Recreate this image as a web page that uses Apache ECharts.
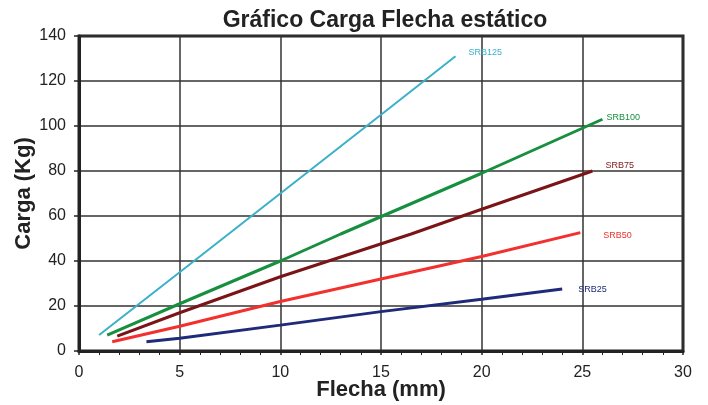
<!DOCTYPE html>
<html><head><meta charset="utf-8">
<script src="https://cdn.jsdelivr.net/npm/echarts@6/dist/echarts.min.js"></script>
<style>html,body{margin:0;padding:0;background:#fff}#c{width:708px;height:405px}</style>
</head><body><div id="c"></div>
<script>
var seriesNames = ['SRB125','SRB100','SRB75','SRB50','SRB25'];
var srb125 = [[1.0,7.1],[5,35],[10,70],[15,105],[18.7,131]];
var srb100 = [[1.4,7.1],[5,21],[10,40],[13,52],[20,79],[26.0,103]];
var srb75  = [[1.9,6.6],[5,17],[10,33],[16.5,52],[20,63],[25.5,80]];
var srb50  = [[1.65,4.1],[5,11],[10,22],[15,32],[20,42],[24.9,52.6]];
var srb25  = [[3.35,4.1],[5,5.7],[10,11.5],[15,17.5],[20,23],[24,27.6]];
var colors = ['#3BB0C9','#16903F','#7B1416','#F2312E','#1F2A78'];
var widths = [2,3,3,3,3];
var labelOffsets = [[5,-4],[-4,-2],[5,-5],[15,3],[8,1]];
var xTicks = [0,5,10,15,20,25,30];
var yTicks = [0,20,40,60,80,100,120,140];
var allData = [srb125, srb100, srb75, srb50, srb25];

var chart = echarts.init(document.getElementById('c'));
var font = 'Liberation Sans, Arial, sans-serif';
chart.setOption({
  animation:false,
  backgroundColor:'#fff',
  title:{text:'Gráfico Carga Flecha estático',left:380,top:4,textAlign:'center',
    textStyle:{fontFamily:font,fontSize:23,fontWeight:'bold',color:'#222'}},
  grid:{left:79,right:25,top:36,bottom:54,containLabel:false,outerBoundsMode:'none',show:true,borderColor:'#222',borderWidth:3,backgroundColor:'transparent'},
  xAxis:{type:'value',min:xTicks[0],max:xTicks[xTicks.length-1],interval:5,
    name:'Flecha (mm)',nameLocation:'middle',nameGap:28,nameMoveOverlap:false,
    nameTextStyle:{fontFamily:font,fontSize:22,fontWeight:'bold',color:'#222'},
    axisLine:{show:true,lineStyle:{color:'#222',width:3}},
    axisTick:{show:true,inside:false,length:4,lineStyle:{color:'#222',width:1.5}},
    minorTick:{show:true,splitNumber:5,length:4,lineStyle:{color:'#222',width:1}},
    axisLabel:{fontFamily:font,fontSize:16,color:'#222',margin:14},
    splitLine:{show:true,lineStyle:{color:'#333',width:1.5}}},
  yAxis:{type:'value',min:yTicks[0],max:yTicks[yTicks.length-1],interval:20,
    name:'Carga (Kg)',nameLocation:'middle',nameGap:44,nameMoveOverlap:false,
    nameTextStyle:{fontFamily:font,fontSize:22,fontWeight:'bold',color:'#222'},
    axisLine:{show:true,lineStyle:{color:'#222',width:3}},
    axisTick:{show:true,inside:false,length:5,lineStyle:{color:'#222',width:1.5}},
    axisLabel:{fontFamily:font,fontSize:16,color:'#222',margin:13},
    splitLine:{show:true,lineStyle:{color:'#333',width:1.5}}},
  series: seriesNames.map(function(n,i){
    return {name:n,type:'line',data:allData[i],showSymbol:false,symbol:'none',
      lineStyle:{color:colors[i],width:widths[i]},
      endLabel:{show:true,formatter:n,color:colors[i],fontFamily:font,fontSize:9,offset:labelOffsets[i]}};
  })
});
</script></body></html>
